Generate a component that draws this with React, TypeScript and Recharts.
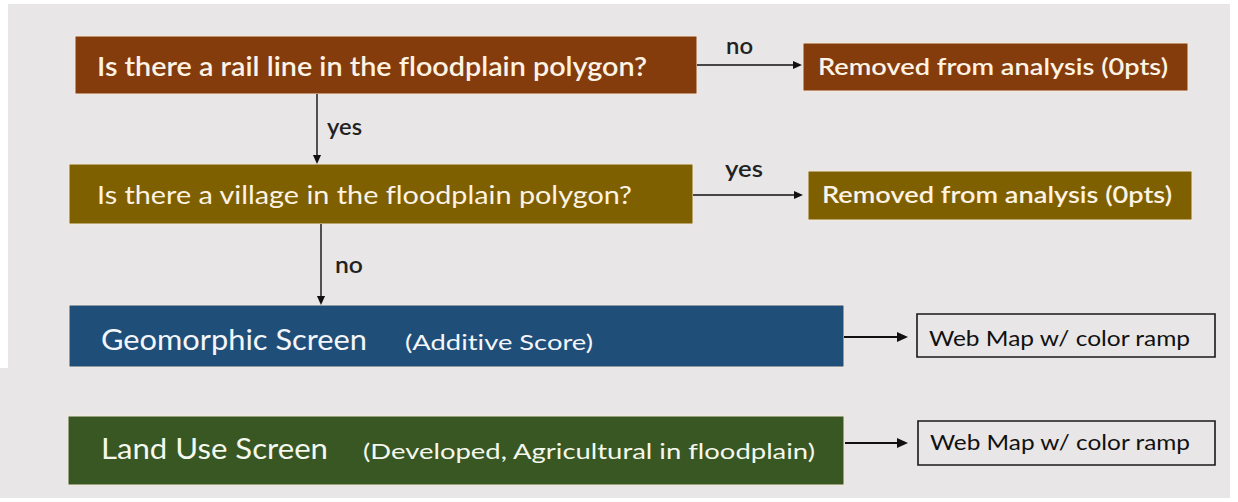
import React from 'react';
import { ComposedChart, XAxis, YAxis, Scatter, ReferenceArea, ReferenceLine } from 'recharts';

// flowchart content
const questions = ['Is there a rail line in the floodplain polygon?', 'Is there a village in the floodplain polygon?'];
const outcomes = ['Removed from analysis (0pts)', 'Removed from analysis (0pts)'];
const screens = ['Geomorphic Screen', 'Land Use Screen'];
const screenNotes = ['(Additive Score)', '(Developed, Agricultural in floodplain)'];
const products = ['Web Map w/ color ramp', 'Web Map w/ color ramp'];
const sideLabels = ['no', 'yes'];
const downLabels = ['yes', 'no'];

const W = 1238;
const H = 502;
const BG = '#e8e6e6';
const BROWN = '#843c0c';
const OLIVE = '#7f6000';
const BLUE = '#1f4e79';
const GREEN = '#385723';
const CREAM = '#fdf3e4';
const FONT = 'Lato, "Open Sans", sans-serif';

// layout in diagram units (1 unit = 1px)
const questionBoxes = [
    { x1: 75, x2: 697, y1: 36, y2: 94, fill: BROWN },
    { x1: 69, x2: 693, y1: 164, y2: 224, fill: OLIVE },
];
const outcomeBoxes = [
    { x1: 803, x2: 1188, y1: 43, y2: 91, fill: BROWN },
    { x1: 808, x2: 1192, y1: 171, y2: 220, fill: OLIVE },
];
const screenBoxes = [
    { x1: 69, x2: 844, y1: 305, y2: 367, fill: BLUE },
    { x1: 68, x2: 844, y1: 416, y2: 485, fill: GREEN },
];
const productBoxes = [
    { x1: 917, x2: 1215, y1: 314, y2: 357 },
    { x1: 918, x2: 1215, y1: 421, y2: 465 },
];
const sideArrows = [
    { from: { x: 697, y: 65 }, to: { x: 802, y: 65 }, w: 1.4, head: 9 },
    { from: { x: 693, y: 195 }, to: { x: 803, y: 195 }, w: 1.4, head: 9 },
];
const downArrows = [
    { from: { x: 317, y: 94 }, to: { x: 317, y: 164 }, w: 1.4, head: 9 },
    { from: { x: 321, y: 224 }, to: { x: 321, y: 305 }, w: 1.4, head: 9 },
];
const productArrows = [
    { from: { x: 844, y: 337 }, to: { x: 908, y: 337 }, w: 2.2, head: 11 },
    { from: { x: 845, y: 443 }, to: { x: 908, y: 443 }, w: 2.2, head: 11 },
];

type Label = { x: number; y: number; text: string; len: number; size: number; weight: number; color: string };

const labels: Label[] = [
    { x: 97, y: 76, text: questions[0], len: 550, size: 26, weight: 600, color: CREAM },
    { x: 97, y: 204, text: questions[1], len: 535, size: 25, weight: 400, color: CREAM },
    { x: 818, y: 75, text: outcomes[0], len: 350, size: 23, weight: 600, color: CREAM },
    { x: 822, y: 203, text: outcomes[1], len: 350, size: 23, weight: 600, color: CREAM },
    { x: 101, y: 350, text: screens[0], len: 266, size: 28, weight: 400, color: '#f4f6fa' },
    { x: 405, y: 350, text: screenNotes[0], len: 188, size: 22, weight: 400, color: '#f4f6fa' },
    { x: 101, y: 459, text: screens[1], len: 227, size: 28, weight: 400, color: '#f4f8ee' },
    { x: 363, y: 459, text: screenNotes[1], len: 452, size: 22, weight: 400, color: '#f4f8ee' },
    { x: 929, y: 346, text: products[0], len: 261, size: 22, weight: 400, color: '#111' },
    { x: 930, y: 450, text: products[1], len: 260, size: 22, weight: 400, color: '#111' },
    { x: 726, y: 54, text: sideLabels[0], len: 27, size: 22, weight: 600, color: '#222' },
    { x: 725, y: 177, text: sideLabels[1], len: 38, size: 22, weight: 600, color: '#222' },
    { x: 327, y: 135, text: downLabels[0], len: 35, size: 22, weight: 600, color: '#222' },
    { x: 335, y: 273, text: downLabels[1], len: 28, size: 22, weight: 600, color: '#222' },
];

const TextMark = (props: any) => {
    const { cx, cy, payload } = props;
    return (
        <text
            x={cx}
            y={cy}
            fontFamily={FONT}
            fontSize={payload.size}
            fontWeight={payload.weight}
            fill={payload.color}
            textLength={payload.len}
            lengthAdjust="spacingAndGlyphs"
            style={{ fontVariantLigatures: 'none' }}
        >
            {payload.text}
        </text>
    );
};

const makeArrow = (w: number, head: number) => (props: any) => {
    const { x1, y1, x2, y2 } = props;
    const dx = x2 - x1;
    const dy = y2 - y1;
    const len = Math.sqrt(dx * dx + dy * dy) || 1;
    const ux = dx / len;
    const uy = dy / len;
    const bx = x2 - ux * head;
    const by = y2 - uy * head;
    const hw = head * 0.45;
    return (
        <g>
            <line x1={x1} y1={y1} x2={bx} y2={by} stroke="#111" strokeWidth={w} />
            <polygon
                points={`${x2},${y2} ${bx - uy * hw},${by + ux * hw} ${bx + uy * hw},${by - ux * hw}`}
                fill="#111"
            />
        </g>
    );
};

const App: React.FC = () => {
    const arrows = [...sideArrows, ...downArrows, ...productArrows];
    return (
        <div style={{ position: 'absolute', left: 0, top: 0, width: W, height: H, background: '#fff' }}>
            <ComposedChart width={W} height={H} margin={{ top: 0, right: 0, bottom: 0, left: 0 }}>
                <XAxis type="number" dataKey="x" domain={[0, W]} hide allowDataOverflow />
                <YAxis type="number" dataKey="y" domain={[0, H]} reversed hide allowDataOverflow />

                {/* background panel */}
                <ReferenceArea x1={8} x2={1230} y1={4} y2={498} fill={BG} fillOpacity={1} stroke="none" />
                <ReferenceArea x1={0} x2={8} y1={368} y2={498} fill={BG} fillOpacity={1} stroke="none" />

                {[...questionBoxes, ...outcomeBoxes, ...screenBoxes].map((b, i) => (
                    <ReferenceArea
                        key={`b${i}`}
                        x1={b.x1}
                        x2={b.x2}
                        y1={b.y1}
                        y2={b.y2}
                        fill={b.fill}
                        fillOpacity={1}
                        stroke="#f6e9dc"
                        strokeWidth={1}
                    />
                ))}
                {productBoxes.map((b, i) => (
                    <ReferenceArea
                        key={`p${i}`}
                        x1={b.x1}
                        x2={b.x2}
                        y1={b.y1}
                        y2={b.y2}
                        fill={BG}
                        fillOpacity={1}
                        stroke="#1a1a1a"
                        strokeWidth={1.6}
                    />
                ))}
                {arrows.map((a, i) => (
                    <ReferenceLine
                        key={`a${i}`}
                        segment={[a.from, a.to]}
                        ifOverflow="visible"
                        shape={makeArrow(a.w, a.head)}
                    />
                ))}
                <Scatter data={labels} shape={TextMark} isAnimationActive={false} />
            </ComposedChart>
        </div>
    );
};

export default App;
